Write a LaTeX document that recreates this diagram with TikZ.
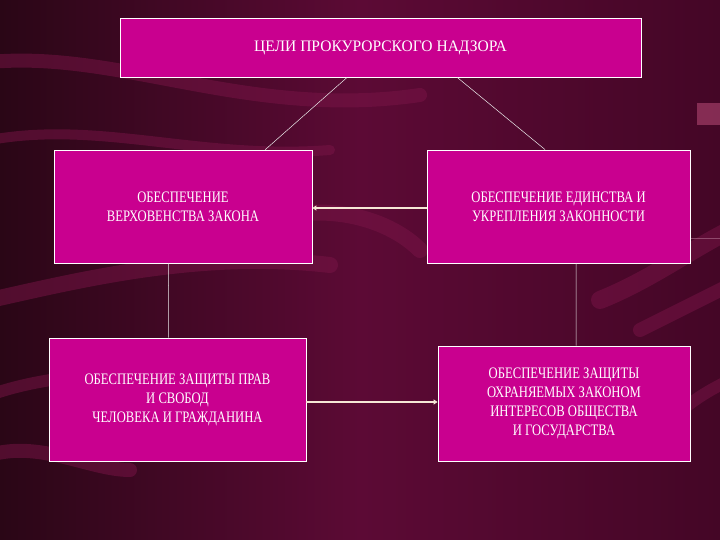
\documentclass[tikz,border=0pt]{standalone}
\usepackage{fontspec}
\newfontfamily\rusfont[FakeStretch=0.79]{Liberation Serif}
\newfontfamily\rustitle[FakeStretch=0.97]{Liberation Serif}
\usetikzlibrary{arrows.meta,calc}
\definecolor{bgdark}{HTML}{2A0616}
\definecolor{bgmid}{HTML}{5C0A35}
\definecolor{bgright}{HTML}{440626}
\definecolor{swirl}{HTML}{7A1447}
\definecolor{boxc}{HTML}{C9008F}
\definecolor{cream}{HTML}{F6E8D6}
\tikzset{
  goalbox/.style={draw=white, line width=0.8pt, fill=boxc, text=white, align=center,
    font=\rusfont\fontsize{16}{19}\selectfont, inner sep=0pt, anchor=center},
  thinline/.style={draw=white!85!gray, line width=0.5pt},
  thickarrow/.style={draw=cream, line width=1.8pt, -{Triangle[length=4pt,width=5pt]}},
}
\begin{document}
\begin{tikzpicture}[x=1pt,y=-1pt]
\useasboundingbox (0,0) rectangle (720,540);
% background
\shade[left color=bgdark, right color=bgright, middle color=bgmid] (0,0) rectangle (720,540);
\begin{scope}[opacity=0.5, line cap=round]
\draw[swirl, line width=14pt] (-10,62) .. controls (120,50) and (250,120) .. (420,95);
\draw[swirl, line width=10pt] (-10,140) .. controls (100,120) and (200,160) .. (330,150);
\draw[swirl, line width=16pt] (-10,300) .. controls (80,280) and (200,250) .. (330,265);
\draw[swirl, line width=12pt] (-10,395) .. controls (60,370) and (120,380) .. (200,350);
\draw[swirl, line width=14pt] (-10,455) .. controls (40,440) and (90,470) .. (130,470);
\draw[swirl, line width=18pt] (600,300) .. controls (650,280) and (690,250) .. (730,230);
\draw[swirl, line width=14pt] (640,330) .. controls (680,310) and (700,300) .. (730,285);
\draw[swirl, line width=12pt] (660,430) .. controls (690,400) and (710,390) .. (730,380);
\draw[swirl, line width=16pt] (250,230) .. controls (300,200) and (380,210) .. (420,250);
\end{scope}
\fill[swirl!80!pink, opacity=0.8] (697,103) rectangle (720,125);
\draw[swirl!60!white, line width=0.8pt, opacity=0.6] (690,238) -- (720,238);
% boxes
\node[goalbox, font=\rustitle\fontsize{16}{19}\selectfont, minimum width=521pt, minimum height=59pt] (top) at (380.5,47.5)
  {ЦЕЛИ ПРОКУРОРСКОГО НАДЗОРА};
\node[goalbox, minimum width=258pt, minimum height=113pt] (lm) at (183,206.5)
  {ОБЕСПЕЧЕНИЕ\\ВЕРХОВЕНСТВА ЗАКОНА};
\node[goalbox, minimum width=263pt, minimum height=113pt] (rm) at (558.5,206.5)
  {ОБЕСПЕЧЕНИЕ ЕДИНСТВА И\\УКРЕПЛЕНИЯ ЗАКОННОСТИ};
\node[goalbox, minimum width=257pt, minimum height=123pt] (bl) at (177.5,399.5)
  {ОБЕСПЕЧЕНИЕ ЗАЩИТЫ ПРАВ\\И СВОБОД\\ЧЕЛОВЕКА И ГРАЖДАНИНА};
\node[goalbox, minimum width=252pt, minimum height=115pt] (br) at (564,403.5)
  {ОБЕСПЕЧЕНИЕ ЗАЩИТЫ\\ОХРАНЯЕМЫХ ЗАКОНОМ\\ИНТЕРЕСОВ ОБЩЕСТВА\\И ГОСУДАРСТВА};
% connectors
\draw[thinline] ($(top.south west)!0.436!(top.south east)$) -- ($(lm.north west)!0.818!(lm.north east)$);
\draw[thinline] ($(top.south west)!0.647!(top.south east)$) -- ($(rm.north west)!0.449!(rm.north east)$);
\draw[thinline] ($(lm.south west)!0.444!(lm.south east)$) -- ($(bl.north west)!0.465!(bl.north east)$);
\draw[thinline] ($(rm.south west)!0.567!(rm.south east)$) -- ($(br.north west)!0.548!(br.north east)$);
\draw[thickarrow] ([yshift=-1.5pt]rm.west) -- ([yshift=-1.5pt]rm.west -| lm.east);
\draw[thickarrow] ([yshift=-2.5pt]bl.east) -- ([yshift=-2.5pt]bl.east -| br.west);
\end{tikzpicture}
\end{document}
